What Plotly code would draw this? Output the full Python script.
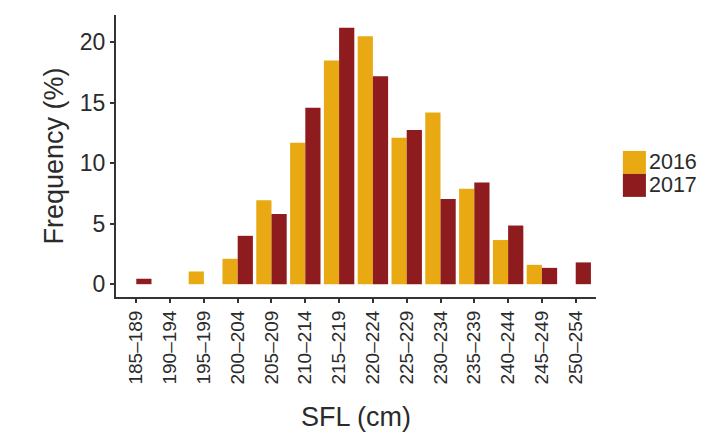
import plotly.graph_objects as go

categories = ["185–189", "190–194", "195–199", "200–204", "205–209", "210–214",
              "215–219", "220–224", "225–229", "230–234", "235–239", "240–244",
              "245–249", "250–254"]
series_names = ["2016", "2017"]
freq_2016 = [0, 0, 1.05, 2.1, 6.95, 11.7, 18.5, 20.5, 12.1, 14.2, 7.9, 3.65, 1.6, 0]
freq_2017 = [0.45, 0, 0, 4.0, 5.8, 14.6, 21.2, 17.2, 12.75, 7.05, 8.4, 4.85, 1.35, 1.8]
colors = ["#E9A913", "#8E1B1E"]
y_ticks = [0, 5, 10, 15, 20]

fig = go.Figure()
for name, vals, col in zip(series_names, [freq_2016, freq_2017], colors):
    fig.add_trace(go.Bar(x=categories, y=vals, name=name, marker_color=col,
                         marker_line_width=0, showlegend=False))

text_col = "#2b2b2b"
font_family = "Liberation Sans, Arial, sans-serif"

# manual legend (large square keys like the reference)
legend_top = 0.518
key_h = 0.0815
for i, (name, col) in enumerate(zip(series_names, colors)):
    y1 = legend_top - i * key_h
    y0 = y1 - key_h
    fig.add_shape(type="rect", xref="paper", yref="paper",
                  x0=1.056, x1=1.104, y0=y0, y1=y1,
                  fillcolor=col, line_width=0)
    fig.add_annotation(xref="paper", yref="paper", x=1.108, y=(y0 + y1) / 2,
                       text=name, showarrow=False, xanchor="left", yanchor="middle",
                       height=22, borderpad=0,
                       font=dict(size=21.5, color=text_col, family=font_family))

fig.update_layout(
    width=721, height=436,
    margin=dict(l=108, r=133, t=7, b=147),
    plot_bgcolor="white", paper_bgcolor="white",
    barmode="group", bargap=0.1, bargroupgap=0,
    font=dict(family=font_family, color=text_col),
    xaxis=dict(
        type="category", range=[-0.6, 13.6],
        showline=True, linecolor="#333333", linewidth=2,
        ticks="outside", ticklen=4, tickwidth=1.5, tickcolor="#333333",
        tickangle=-90, tickfont=dict(size=19, color=text_col),
        showgrid=False, zeroline=False,
        title=dict(text="SFL (cm)", font=dict(size=27, color=text_col), standoff=24),
    ),
    yaxis=dict(
        range=[-1.06, 22.26], tickvals=y_ticks,
        showline=True, linecolor="#333333", linewidth=2,
        ticks="outside", ticklen=4, tickwidth=1.5, tickcolor="#333333",
        tickfont=dict(size=23, color=text_col),
        showgrid=False, zeroline=False,
        title=dict(text="Frequency (%)", font=dict(size=27, color=text_col), standoff=8),
    ),
)

fig.write_html("out.html")
